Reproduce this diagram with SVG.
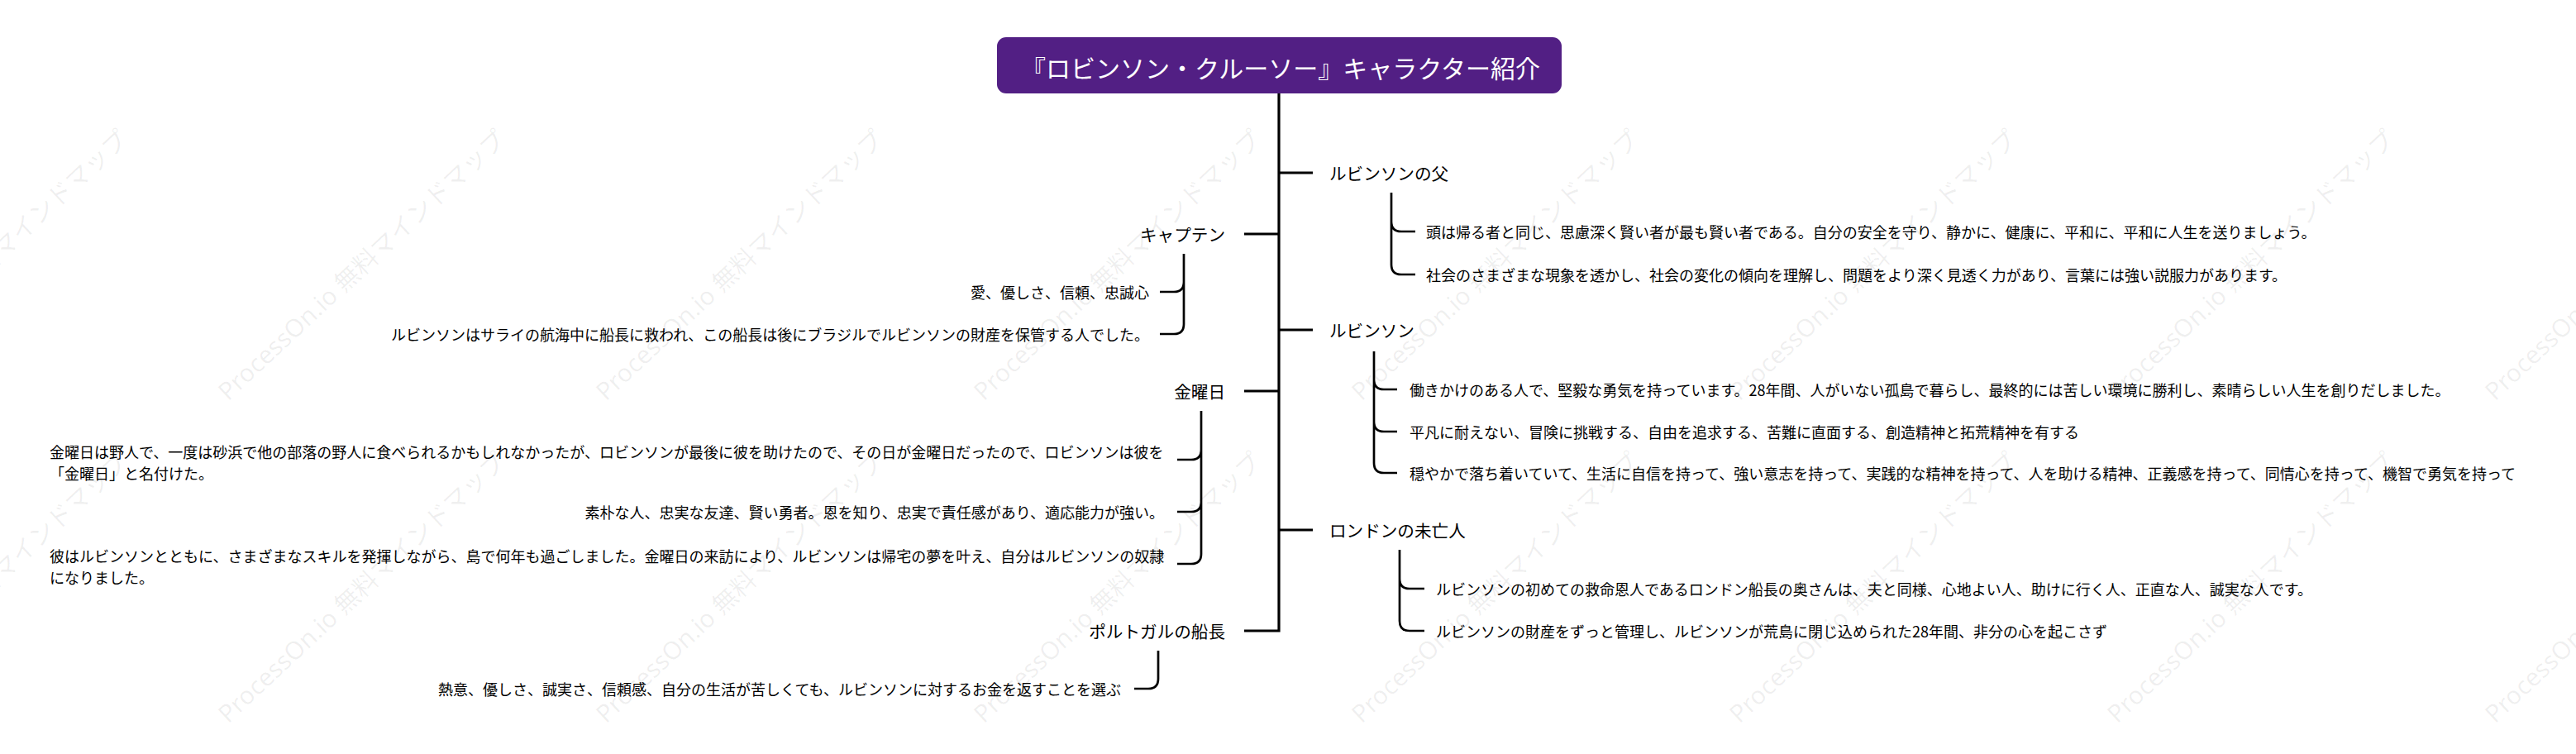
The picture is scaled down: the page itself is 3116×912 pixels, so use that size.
<svg xmlns="http://www.w3.org/2000/svg" width="3116" height="912" viewBox="0 0 3116 912">
<style>
  text { font-family: "Noto Sans CJK JP", "Noto Sans", sans-serif; dominant-baseline: central; fill: #000; }
  .title { font-size: 30px; fill: #ffffff; text-anchor: middle; }
  .branch { font-size: 20.6px; }
  .leaf { font-size: 18px; }
  .end { text-anchor: end; }
  .wm { font-family: "Noto Sans", "Noto Sans CJK JP", sans-serif; font-size: 30px; fill: #000; fill-opacity: 0.065; text-anchor: middle; }
  .trunk { fill: none; stroke: #000; stroke-width: 3.2; }
  .conn { fill: none; stroke: #000; stroke-width: 2.7; }
</style>
<rect width="3116" height="912" fill="#ffffff"/>

<g id="watermarks">
  <text class="wm" transform="translate(-20,320) rotate(-43)">ProcessOn.io 無料マインドマップ</text>
  <text class="wm" transform="translate(437,320) rotate(-43)">ProcessOn.io 無料マインドマップ</text>
  <text class="wm" transform="translate(894,320) rotate(-43)">ProcessOn.io 無料マインドマップ</text>
  <text class="wm" transform="translate(1351,320) rotate(-43)">ProcessOn.io 無料マインドマップ</text>
  <text class="wm" transform="translate(1808,320) rotate(-43)">ProcessOn.io 無料マインドマップ</text>
  <text class="wm" transform="translate(2265,320) rotate(-43)">ProcessOn.io 無料マインドマップ</text>
  <text class="wm" transform="translate(2722,320) rotate(-43)">ProcessOn.io 無料マインドマップ</text>
  <text class="wm" transform="translate(3179,320) rotate(-43)">ProcessOn.io 無料マインドマップ</text>
  <text class="wm" transform="translate(-20,710) rotate(-43)">ProcessOn.io 無料マインドマップ</text>
  <text class="wm" transform="translate(437,710) rotate(-43)">ProcessOn.io 無料マインドマップ</text>
  <text class="wm" transform="translate(894,710) rotate(-43)">ProcessOn.io 無料マインドマップ</text>
  <text class="wm" transform="translate(1351,710) rotate(-43)">ProcessOn.io 無料マインドマップ</text>
  <text class="wm" transform="translate(1808,710) rotate(-43)">ProcessOn.io 無料マインドマップ</text>
  <text class="wm" transform="translate(2265,710) rotate(-43)">ProcessOn.io 無料マインドマップ</text>
  <text class="wm" transform="translate(2722,710) rotate(-43)">ProcessOn.io 無料マインドマップ</text>
  <text class="wm" transform="translate(3179,710) rotate(-43)">ProcessOn.io 無料マインドマップ</text>
</g>

<g id="connectors">
  <path class="trunk" d="M1547,113 V763 H1505"/>
  <path class="trunk" d="M1547,209 H1588 M1547,399 H1588 M1547,641 H1588 M1547,283 H1505 M1547,473 H1505"/>
  <path class="conn" d="M1683,233 V320 Q1683,332 1695,332 H1712 M1683,268 Q1683,280 1695,280 H1712"/>
  <path class="conn" d="M1662,425 V560 Q1662,572 1674,572 H1690 M1662,459 Q1662,471 1674,471 H1690 M1662,510 Q1662,522 1674,522 H1690"/>
  <path class="conn" d="M1693,665 V751 Q1693,763 1705,763 H1723 M1693,700 Q1693,712 1705,712 H1723"/>
  <path class="conn" d="M1432,307 V392 Q1432,404 1420,404 H1403 M1432,341 Q1432,353 1420,353 H1403"/>
  <path class="conn" d="M1453,497 V670 Q1453,682 1441,682 H1424 M1453,544 Q1453,556 1441,556 H1424 M1453,607 Q1453,619 1441,619 H1424"/>
  <path class="conn" d="M1401,787 V821 Q1401,833 1389,833 H1372"/>
</g>

<g id="root">
  <rect x="1206" y="45" width="683" height="68" rx="11" ry="11" fill="#521f84"/>
  <text class="title" x="1549" y="81">『ロビンソン・クルーソー』キャラクター紹介</text>
</g>

<g id="node-father">
  <text class="branch" x="1608" y="209">ルビンソンの父</text>
</g>
<g id="node-father-1">
  <text class="leaf" x="1725" y="280">頭は帰る者と同じ、思慮深く賢い者が最も賢い者である。自分の安全を守り、静かに、健康に、平和に、平和に人生を送りましょう。</text>
</g>
<g id="node-father-2">
  <text class="leaf" x="1725" y="332">社会のさまざまな現象を透かし、社会の変化の傾向を理解し、問題をより深く見透く力があり、言葉には強い説服力があります。</text>
</g>

<g id="node-robinson">
  <text class="branch" x="1608" y="399">ルビンソン</text>
</g>
<g id="node-robinson-1">
  <text class="leaf" x="1705" y="471">働きかけのある人で、堅毅な勇気を持っています。28年間、人がいない孤島で暮らし、最終的には苦しい環境に勝利し、素晴らしい人生を創りだしました。</text>
</g>
<g id="node-robinson-2">
  <text class="leaf" x="1705" y="522">平凡に耐えない、冒険に挑戦する、自由を追求する、苦難に直面する、創造精神と拓荒精神を有する</text>
</g>
<g id="node-robinson-3">
  <text class="leaf" x="1705" y="572">穏やかで落ち着いていて、生活に自信を持って、強い意志を持って、実践的な精神を持って、人を助ける精神、正義感を持って、同情心を持って、機智で勇気を持って</text>
</g>

<g id="node-widow">
  <text class="branch" x="1608" y="641">ロンドンの未亡人</text>
</g>
<g id="node-widow-1">
  <text class="leaf" x="1737" y="712">ルビンソンの初めての救命恩人であるロンドン船長の奥さんは、夫と同様、心地よい人、助けに行く人、正直な人、誠実な人です。</text>
</g>
<g id="node-widow-2">
  <text class="leaf" x="1737" y="763">ルビンソンの財産をずっと管理し、ルビンソンが荒島に閉じ込められた28年間、非分の心を起こさず</text>
</g>

<g id="node-captain">
  <text class="branch end" x="1482" y="283">キャプテン</text>
</g>
<g id="node-captain-1">
  <text class="leaf end" x="1390" y="353">愛、優しさ、信頼、忠誠心</text>
</g>
<g id="node-captain-2">
  <text class="leaf end" x="1390" y="404">ルビンソンはサライの航海中に船長に救われ、この船長は後にブラジルでルビンソンの財産を保管する人でした。</text>
</g>

<g id="node-friday">
  <text class="branch end" x="1482" y="473">金曜日</text>
</g>
<g id="node-friday-1">
  <text class="leaf" x="60" y="546">金曜日は野人で、一度は砂浜で他の部落の野人に食べられるかもしれなかったが、ロビンソンが最後に彼を助けたので、その日が金曜日だったので、ロビンソンは彼を</text>
  <text class="leaf" x="60" y="572">「金曜日」と名付けた。</text>
</g>
<g id="node-friday-2">
  <text class="leaf end" x="1408" y="619">素朴な人、忠実な友達、賢い勇者。恩を知り、忠実で責任感があり、適応能力が強い。</text>
</g>
<g id="node-friday-3">
  <text class="leaf" x="60" y="672">彼はルビンソンとともに、さまざまなスキルを発揮しながら、島で何年も過ごしました。金曜日の来訪により、ルビンソンは帰宅の夢を叶え、自分はルビンソンの奴隷</text>
  <text class="leaf" x="60" y="698">になりました。</text>
</g>

<g id="node-portugal">
  <text class="branch end" x="1482" y="763">ポルトガルの船長</text>
</g>
<g id="node-portugal-1">
  <text class="leaf end" x="1356" y="833">熱意、優しさ、誠実さ、信頼感、自分の生活が苦しくても、ルビンソンに対するお金を返すことを選ぶ</text>
</g>
</svg>
